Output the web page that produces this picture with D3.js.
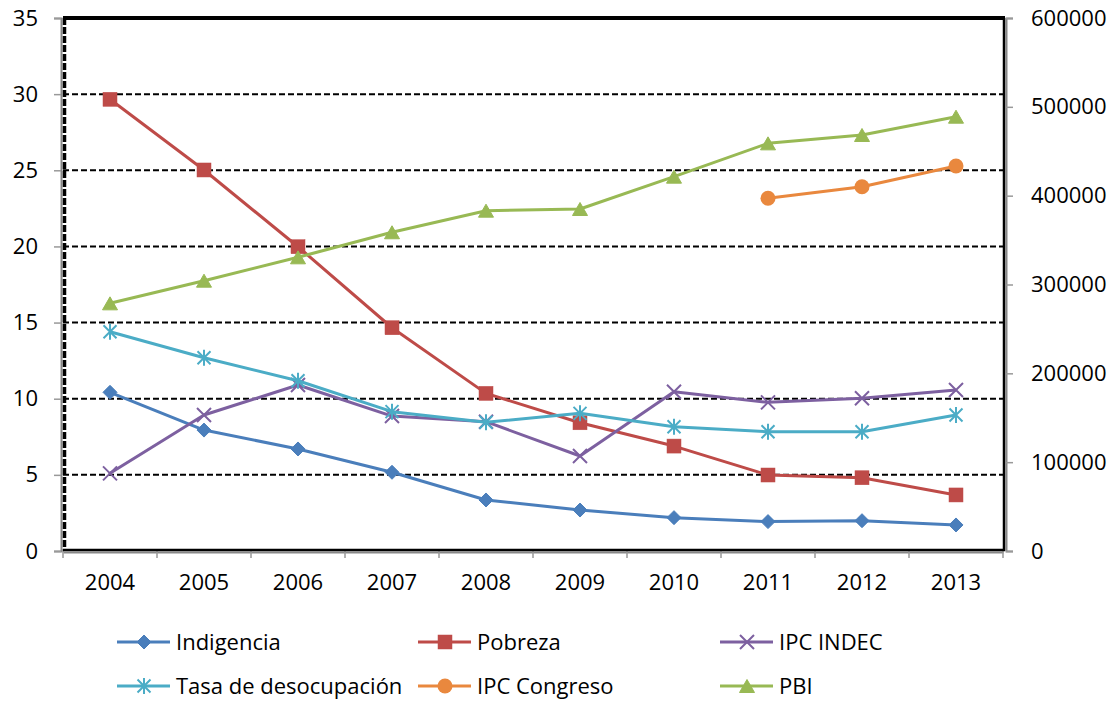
<!DOCTYPE html>
<html>
<head>
<meta charset="utf-8">
<script src="https://cdn.jsdelivr.net/npm/d3@7"></script>
<style>
  body { margin: 0; background: #fff; }
  text { font-family: "Open Sans", sans-serif; font-size: 22px; fill: #000; }
</style>
</head>
<body>
<div id="chart"></div>
<script>
// ---- data ----
const years = ["2004", "2005", "2006", "2007", "2008", "2009", "2010", "2011", "2012", "2013"];
const indigencia   = [10.42, 7.94, 6.70, 5.17, 3.35, 2.69, 2.19, 1.93, 1.99, 1.71];
const pobreza      = [29.66, 25.02, 19.98, 14.66, 10.35, 8.42, 6.89, 4.99, 4.81, 3.68];
const ipcIndec     = [5.10, 8.93, 10.90, 8.86, 8.49, 6.24, 10.46, 9.76, 10.03, 10.57];
const desocupacion = [14.40, 12.69, 11.18, 9.15, 8.45, 9.04, 8.16, 7.83, 7.83, 8.93];
const ipcCongreso  = [null, null, null, null, null, null, null, 23.16, 23.92, 25.28];
const pbi          = [278800, 304300, 330600, 358800, 383100, 385000, 421400, 458900, 468300, 488900];

const leftTicks  = [0, 5, 10, 15, 20, 25, 30, 35];
const rightTicks = [0, 100000, 200000, 300000, 400000, 500000, 600000];

const series = [
  { name: "Indigencia",           values: indigencia,   axis: "left",  color: "#4A7EBB", marker: "diamond" },
  { name: "Pobreza",              values: pobreza,      axis: "left",  color: "#BE4B48", marker: "square" },
  { name: "IPC INDEC",            values: ipcIndec,     axis: "left",  color: "#7D60A0", marker: "x" },
  { name: "Tasa de desocupación", values: desocupacion, axis: "left",  color: "#4BACC6", marker: "star" },
  { name: "IPC Congreso",         values: ipcCongreso,  axis: "left",  color: "#E9883E", marker: "circle" },
  { name: "PBI",                  values: pbi,          axis: "right", color: "#98B954", marker: "triangle" }
];
// legend is laid out by row: first row, then second
const legendOrder = ["Indigencia", "Pobreza", "IPC INDEC", "Tasa de desocupación", "IPC Congreso", "PBI"];

const width = 1115;
const height = 702;
const plot = { left: 63, right: 1003, top: 18, bottom: 551 };

const svg = d3.select("#chart")
  .append("svg")
  .attr("width", width)
  .attr("height", height);

const x = d3.scaleBand()
  .domain(years)
  .range([plot.left, plot.right]);

const yLeft = d3.scaleLinear()
  .domain([0, 35])
  .range([plot.bottom, plot.top]);

const yRight = d3.scaleLinear()
  .domain([0, 600000])
  .range([plot.bottom, plot.top]);

const cx = d => x(d) + x.bandwidth() / 2;

// dashed gridlines on the left axis ticks
svg.append("g")
  .selectAll("line")
  .data(leftTicks.filter(t => t > 0 && t < 35))
  .enter()
  .append("line")
  .attr("x1", plot.left)
  .attr("x2", plot.right)
  .attr("y1", d => yLeft(d))
  .attr("y2", d => yLeft(d))
  .attr("stroke", "#000")
  .attr("stroke-width", 2)
  .attr("stroke-dasharray", "6,3");

// left axis
const leftAxis = svg.append("g")
  .attr("transform", "translate(" + (plot.left - 2) + ",0)")
  .call(d3.axisLeft(yLeft).tickValues(leftTicks).tickSize(7).tickPadding(16));
leftAxis.select(".domain").attr("stroke", "#888").attr("stroke-width", 2);
leftAxis.selectAll(".tick line").attr("stroke", "#999").attr("stroke-width", 1.5);
leftAxis.selectAll("text").style("font-size", "22px").attr("fill", "#000");

// right axis
const rightAxis = svg.append("g")
  .attr("transform", "translate(" + (plot.right + 3) + ",0)")
  .call(d3.axisRight(yRight).tickValues(rightTicks).tickSize(7).tickPadding(18).tickFormat(d3.format("d")));
rightAxis.select(".domain").attr("stroke", "#888").attr("stroke-width", 2);
rightAxis.selectAll(".tick line").attr("stroke", "#999").attr("stroke-width", 1.5);
rightAxis.selectAll("text").style("font-size", "22px").attr("fill", "#000");

// x axis: labels centred, ticks on the category boundaries
const xAxis = svg.append("g")
  .attr("transform", "translate(0," + (plot.bottom + 1) + ")")
  .call(d3.axisBottom(x).tickSize(0).tickPadding(22));
xAxis.select(".domain").attr("stroke", "#888").attr("stroke-width", 2);
xAxis.selectAll("text").style("font-size", "22px").attr("fill", "#000");

const bounds = years.map(d => x(d)).concat([plot.right]);
svg.append("g")
  .selectAll("line")
  .data(bounds)
  .enter()
  .append("line")
  .attr("x1", d => d)
  .attr("x2", d => d)
  .attr("y1", plot.bottom)
  .attr("y2", plot.bottom + 7)
  .attr("stroke", "#999")
  .attr("stroke-width", 1.5);

// plot area frame
svg.append("line")
  .attr("x1", plot.left).attr("x2", plot.right + 2)
  .attr("y1", plot.top).attr("y2", plot.top)
  .attr("stroke", "#000").attr("stroke-width", 4);
svg.append("line")
  .attr("x1", plot.left).attr("x2", plot.right + 2)
  .attr("y1", plot.bottom - 1).attr("y2", plot.bottom - 1)
  .attr("stroke", "#000").attr("stroke-width", 2.5);
svg.append("line")
  .attr("x1", plot.right + 1).attr("x2", plot.right + 1)
  .attr("y1", plot.top).attr("y2", plot.bottom)
  .attr("stroke", "#000").attr("stroke-width", 2.5);
svg.append("line")
  .attr("x1", plot.left + 1.5).attr("x2", plot.left + 1.5)
  .attr("y1", plot.top).attr("y2", plot.bottom)
  .attr("stroke", "#000").attr("stroke-width", 3.5)
  .attr("stroke-dasharray", "7,2");

// markers
function drawMarker(g, type, color) {
  if (type === "diamond") {
    g.append("path").attr("d", "M0,-7L7,0L0,7L-7,0Z").attr("fill", color).attr("stroke", color);
  } else if (type === "square") {
    g.append("rect").attr("x", -7).attr("y", -7).attr("width", 14).attr("height", 14)
      .attr("fill", color).attr("stroke", color).attr("stroke-width", 0.5);
  } else if (type === "triangle") {
    g.append("path").attr("d", "M0,-6.5L7.5,6.5L-7.5,6.5Z").attr("fill", color).attr("stroke", color);
  } else if (type === "circle") {
    g.append("circle").attr("r", 7.5).attr("fill", color);
  } else if (type === "x") {
    g.append("path").attr("d", "M-7,-7L7,7M7,-7L-7,7")
      .attr("fill", "none").attr("stroke", color).attr("stroke-width", 2);
  } else if (type === "star") {
    g.append("path").attr("d", "M-6.5,-6.5L6.5,6.5M6.5,-6.5L-6.5,6.5M0,-8L0,8")
      .attr("fill", "none").attr("stroke", color).attr("stroke-width", 2);
  }
}

const lineGen = scale => d3.line()
  .defined(d => d.v !== null)
  .x(d => cx(d.year))
  .y(d => scale(d.v));

series.forEach(s => {
  const scale = s.axis === "left" ? yLeft : yRight;
  const pts = years.map((year, i) => ({ year: year, v: s.values[i] }));
  const grp = svg.append("g").attr("class", "series");

  grp.append("path")
    .datum(pts)
    .attr("fill", "none")
    .attr("stroke", s.color)
    .attr("stroke-width", 3)
    .attr("stroke-linejoin", "round")
    .attr("d", lineGen(scale));

  grp.selectAll(".mk")
    .data(pts.filter(d => d.v !== null))
    .enter()
    .append("g")
    .attr("class", "mk")
    .attr("transform", d => "translate(" + cx(d.year) + "," + scale(d.v) + ")")
    .each(function() { drawMarker(d3.select(this), s.marker, s.color); });
});

// legend: 3 columns x 2 rows (second row nudged up so descenders stay on the page)
const legendCols = [117, 418, 720];
const legendRows = [642, 686];
legendOrder.forEach((name, i) => {
  const s = series.find(d => d.name === name);
  const lx = legendCols[i % 3];
  const ly = legendRows[Math.floor(i / 3)];
  const item = svg.append("g").attr("transform", "translate(" + lx + "," + ly + ")");
  item.append("line")
    .attr("x1", 0).attr("x2", 53)
    .attr("y1", 0).attr("y2", 0)
    .attr("stroke", s.color).attr("stroke-width", 3);
  const mk = item.append("g").attr("transform", "translate(27,0)");
  drawMarker(mk, s.marker, s.color);
  item.append("text")
    .attr("x", 59)
    .attr("y", 0)
    .attr("dy", "0.35em")
    .text(s.name);
});
</script>
</body>
</html>
